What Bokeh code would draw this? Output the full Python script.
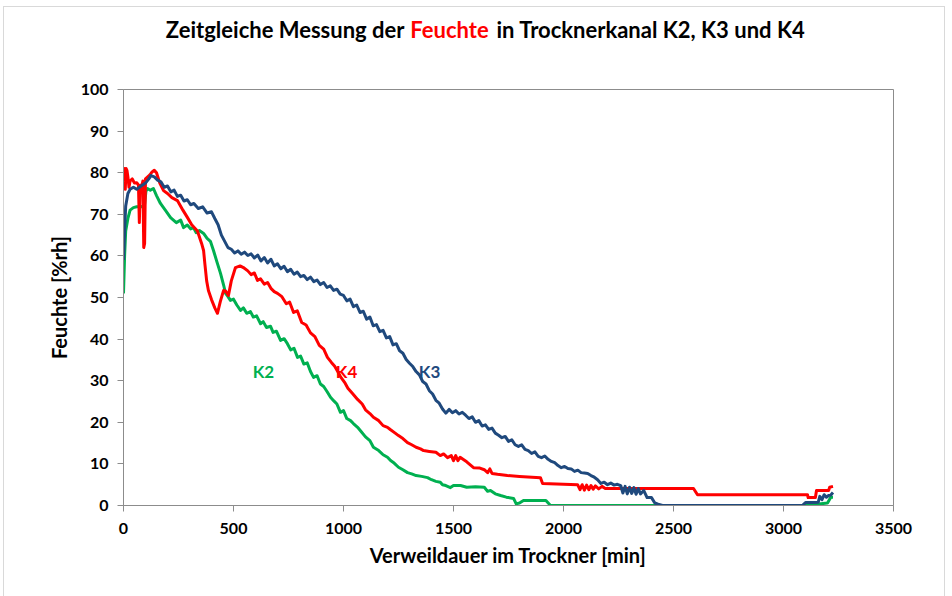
from bokeh.plotting import figure
from bokeh.layouts import column
from bokeh.models import FixedTicker, Range1d
from bokeh.core.properties import value
from bokeh.embed import file_html
from bokeh.resources import INLINE

# ---------------- data ----------------
X_TICKS = [0, 500, 1000, 1500, 2000, 2500, 3000, 3500]
Y_TICKS = [0, 10, 20, 30, 40, 50, 60, 70, 80, 90, 100]

K3_x = [0, 5, 10, 20, 30, 45, 60, 80, 100, 115,
        125, 140, 155, 170, 185, 200, 215, 230, 245, 260,
        275, 290, 305, 320, 340, 360, 380, 400, 415, 430,
        445, 460, 475, 490, 505, 520, 535, 550, 565, 580,
        595, 610, 625, 640, 655, 670, 685, 700, 715, 730,
        745, 760, 775, 790, 805, 820, 835, 850, 865, 880,
        895, 910, 925, 940, 955, 970, 985, 1000, 1015, 1030,
        1045, 1060, 1075, 1090, 1105, 1120, 1135, 1150, 1165, 1180,
        1195, 1210, 1225, 1240, 1255, 1270, 1285, 1300, 1315, 1330,
        1345, 1360, 1375, 1390, 1405, 1420, 1435, 1450, 1465, 1480,
        1495, 1510, 1525, 1540, 1555, 1570, 1585, 1600, 1615, 1630,
        1645, 1660, 1675, 1690, 1705, 1720, 1735, 1750, 1765, 1780,
        1795, 1810, 1825, 1840, 1855, 1870, 1885, 1900, 1915, 1930,
        1945, 1960, 1975, 1990, 2005, 2020, 2035, 2050, 2065, 2080,
        2095, 2110, 2125, 2140, 2155, 2170, 2185, 2200, 2215, 2230,
        2245, 2260, 2270, 2280, 2290, 2300, 2310, 2320, 2330, 2340,
        2350, 2365, 2380, 2400, 2415, 2430, 2450, 2600, 2800, 3000,
        3085, 3100, 3130, 3158, 3165, 3175, 3185, 3195, 3205, 3215,
        3225]
K3_y = [59, 66, 72, 75, 76, 76.5, 76, 76.8, 77.5, 78.5,
        79.3, 79, 78.2, 77.8, 76.5, 76.8, 75.4, 75.8, 74.3, 74.6,
        73.2, 73.5, 72.3, 72.6, 71.4, 71.8, 70.3, 70.6, 69, 67.5,
        65, 63.5, 62, 61.6, 60.7, 61.2, 60.4, 60.9, 60.1, 60.5,
        59.5, 60.2, 58.8, 59.6, 58.3, 59.2, 57.6, 58.1, 56.9, 57.5,
        56.2, 56.8, 55.6, 56.1, 55, 55.3, 54.3, 54.9, 53.8, 54.2,
        53.1, 53.6, 52.4, 52.8, 51.7, 52, 50.8, 50.5, 49.2, 49.6,
        47.8, 48.2, 46.4, 46.7, 44.8, 45.3, 43.2, 43.5, 41.8, 42.1,
        40.3, 40.6, 38.6, 38.9, 37.2, 36.6, 35.1, 34.2, 33.4, 32.2,
        31.4, 29.8, 29.2, 27.6, 26.8, 25.3, 24.6, 23.2, 22.2, 23.1,
        22.3, 22.8, 22, 22.4, 21.7, 20.9, 21.3, 20, 20.4, 19.1,
        19.4, 18.3, 18.6, 17.4, 16.9, 16.3, 16.6, 15.4, 15.8, 14.6,
        14.2, 14.6, 13.5, 13.2, 12.5, 12.9, 11.8, 11.5, 11.9, 11.1,
        10.6, 10.3, 9.6, 9.1, 9.4, 8.9, 8.8, 8.2, 8.5, 7.9,
        7.8, 7.7, 7.2, 6.8, 6.2, 5.3, 5.6, 5.0, 5.4, 4.9,
        5.1, 4.8, 3.0, 4.6, 2.8, 4.4, 2.9, 4.3, 2.7, 4.1,
        2.8, 3.6, 1.9, 1.9, 0.6, 0.3, 0, 0, 0, 0,
        0, 0.7, 0.7, 0.8, 2.2, 1.4, 2.6, 2.0, 2.4, 2.5,
        3.1]

K4_x = [0, 4, 8, 12, 16, 20, 25, 30, 40, 50,
        60, 68, 72, 76, 80, 88, 92, 96, 100, 110,
        120, 130, 140, 150, 165, 182, 200, 220, 245, 270,
        291, 310, 336, 355, 364, 370, 378, 386, 400, 415,
        427, 440, 455, 465, 477, 490, 509, 530, 545, 565,
        580, 595, 609, 623, 640, 655, 670, 685, 700, 720,
        740, 755, 773, 790, 810, 830, 850, 870, 890, 910,
        927, 945, 960, 975, 986, 1005, 1020, 1040, 1064, 1085,
        1100, 1120, 1136, 1160, 1180, 1200, 1214, 1235, 1250, 1270,
        1291, 1310, 1330, 1350, 1364, 1390, 1420, 1440, 1455, 1473,
        1490, 1500, 1510, 1520, 1530, 1560, 1591, 1620, 1640, 1655,
        1665, 1675, 1700, 1745, 1800, 1895, 1905, 2064, 2075, 2085,
        2095, 2105, 2115, 2125, 2135, 2145, 2160, 2175, 2190, 2200,
        2591, 2609, 3109, 3112, 3145, 3150, 3205, 3210, 3225]
K4_y = [78, 81, 76, 81, 80.5, 79, 76.5, 78, 78.5, 77.5,
        77.6, 77, 68, 77, 76, 78, 62, 63, 78.5, 79,
        79.5, 80.2, 80.6, 80, 77.5, 75.7, 75, 74, 73.3, 71,
        69.2, 67.5, 66, 63, 61.3, 58, 54, 51.7, 49.5, 47.5,
        46.2, 49, 51.7, 51.5, 50.5, 54, 57.2, 57.6, 57.2, 56.4,
        55.5, 55.9, 54.1, 54.5, 53.2, 53.6, 52.2, 51.4, 51, 50.2,
        48.5, 48.9, 46.4, 46.8, 44, 43.4, 41.5, 40.6, 38.5, 37.6,
        35.6, 34.4, 33.5, 32.1, 31, 29.6, 28.2, 27, 25.5, 24.4,
        23, 22.1, 21.2, 20.4, 19.2, 18.8, 18.2, 17.4, 16.8, 16.1,
        15.1, 14.6, 14, 13.6, 13.2, 13, 12.8, 12, 12.4, 11.5,
        12, 10.8, 12, 10.8, 11.6, 10.5, 9.1, 9, 8.6, 7.9,
        8.8, 7.7, 7.5, 7.2, 7, 6.7, 5.3, 5, 3.8, 5,
        3.7, 4.9, 3.8, 4.8, 3.9, 4.7, 4, 4.6, 4.1, 4.1,
        4.1, 2.6, 2.6, 1.9, 1.9, 3.6, 3.6, 4.4, 4.6]

K2_x = [0, 5, 10, 20, 30, 45, 60, 80, 95, 102,
        109, 122, 136, 150, 168, 190, 214, 240, 260, 273,
        290, 305, 318, 330, 345, 364, 380, 395, 409, 425,
        441, 455, 464, 475, 486, 500, 515, 532, 545, 560,
        577, 590, 605, 623, 635, 650, 668, 680, 695, 714,
        730, 745, 760, 775, 791, 805, 820, 835, 850, 864,
        880, 895, 910, 925, 941, 955, 970, 986, 1000, 1015,
        1032, 1045, 1064, 1080, 1100, 1120, 1136, 1160, 1180, 1200,
        1214, 1230, 1250, 1270, 1291, 1310, 1330, 1355, 1382, 1400,
        1420, 1440, 1450, 1465, 1486, 1500, 1532, 1560, 1600, 1640,
        1655, 1668, 1690, 1714, 1740, 1773, 1785, 1800, 1818, 1920,
        1941, 3109, 3150, 3200, 3215, 3225]
K2_y = [51, 60, 66, 69, 71, 71.6, 71.8, 71.8, 72, 75.5,
        76.2, 75.8, 76.2, 74.5, 72.6, 71, 69.2, 68, 68.6, 66.8,
        67.4, 66.5, 66.8, 65.6, 66.1, 65.4, 64.2, 63.5, 61.3, 58.5,
        55.8, 53, 51, 50.2, 49.3, 49.6, 48.2, 46.9, 47.5, 46.2,
        46.6, 45.3, 45.6, 43.7, 44.2, 42.8, 43.1, 41.6, 41.9, 39.7,
        40.1, 38.9, 37.4, 37.8, 35.6, 35.9, 34, 34.3, 32.2, 30.8,
        31.2, 29.2, 28.6, 27.4, 26, 25.2, 24.4, 22.4, 22.8, 20.9,
        20.4, 19.7, 18.8, 17.8, 16.5, 15.6, 14, 13.2, 12.2, 11.6,
        10.8, 10.2, 9.2, 8.6, 7.9, 7.6, 7.2, 7, 6.7, 6.2,
        5.8, 5.6, 5, 4.8, 4.3, 4.8, 4.8, 4.4, 4.5, 4.4,
        3.4, 3.6, 2.8, 2.4, 2.0, 1.7, 0.4, 0.6, 1.2, 1.2,
        0, 0, 0.3, 0.6, 2, 2]

SERIES_NAMES = ["K2", "K3", "K4"]
SERIES_COLORS = {"K2": "#00B050", "K3": "#1F497D", "K4": "#FF0000"}
LABEL_X = {"K2": 636, "K4": 1014, "K3": 1391}
LABEL_Y = 32.2

TITLE_PARTS = ["Zeitgleiche Messung der", "Feuchte", "in Trocknerkanal K2, K3 und K4"]
TITLE_COLORS = ["black", "#FF0000", "black"]
TITLE_ALIGN = ["right", "center", "left"]
TITLE_X = [404, 449, 496]   # page x positions (title strip frame is aligned to the chart frame)

for a, b in [(K3_x, K3_y), (K4_x, K4_y), (K2_x, K2_y)]:
    assert len(a) == len(b), (len(a), len(b))

FONT = "Lato"
W = 940

# ---------------- title strip ----------------
t = figure(width=W, height=50, output_backend="svg", toolbar_location=None,
           title=None,
           x_range=Range1d(123, 893), y_range=Range1d(0, 50),
           x_axis_location=None, y_axis_location=None,
           min_border_left=0, min_border_right=0,
           min_border_top=0, min_border_bottom=0)
t.grid.visible = False
t.outline_line_color = None
t.background_fill_color = "white"
t.border_fill_color = "white"
for txt, col, al, tx in zip(TITLE_PARTS, TITLE_COLORS, TITLE_ALIGN, TITLE_X):
    t.text(x=[tx], y=[28], text=[txt],
           text_color=col, text_font=value(FONT), text_font_style="bold",
           text_font_size="22px", text_align=al,
           text_baseline="alphabetic")

# ---------------- main chart ----------------
p = figure(width=W, height=539, output_backend="svg", toolbar_location=None,
           x_range=Range1d(0, 3500), y_range=Range1d(0, 100),
           min_border_left=119, min_border_right=51,
           min_border_top=32, min_border_bottom=91)
p.background_fill_color = "white"
p.border_fill_color = "white"
p.outline_line_color = "#8C8C8C"
p.outline_line_width = 1
p.xgrid.visible = False
p.ygrid.visible = False

for ax in (p.xaxis[0], p.yaxis[0]):
    ax.axis_line_color = "#8C8C8C"
    ax.major_tick_line_color = "#8C8C8C"
    ax.minor_tick_line_color = None
    ax.major_tick_in = 0
    ax.major_tick_out = 6
    ax.major_label_text_font = FONT
    ax.major_label_text_font_style = "bold"
    ax.major_label_text_font_size = "16px"
    ax.major_label_text_color = "black"
    ax.axis_label_text_font = FONT
    ax.axis_label_text_font_style = "bold"
    ax.axis_label_text_font_size = "20px"
    ax.axis_label_text_color = "black"

p.xaxis.ticker = FixedTicker(ticks=X_TICKS)
p.yaxis.ticker = FixedTicker(ticks=Y_TICKS)
p.xaxis.axis_label = "Verweildauer im Trockner [min]"
p.yaxis.axis_label = "Feuchte [%rh]"
p.xaxis.major_label_standoff = 11
p.yaxis.major_label_standoff = 9
p.xaxis.axis_label_standoff = 6
p.yaxis.axis_label_standoff = 7

data = {"K2": (K2_x, K2_y), "K3": (K3_x, K3_y), "K4": (K4_x, K4_y)}
for name in ["K2", "K4", "K3"]:
    xs, ys = data[name]
    p.line(xs, ys, line_color=SERIES_COLORS[name], line_width=3,
           line_join="round")

for name in SERIES_NAMES:
    p.text(x=[LABEL_X[name]], y=[LABEL_Y], text=[name],
           text_color=SERIES_COLORS[name], text_font=value(FONT),
           text_font_style="bold", text_font_size="17px",
           text_align="center", text_baseline="middle")

layout = column(t, p, spacing=0)
layout.styles = {"border-top": "1px solid #D9D9D9",
                 "border-left": "1px solid #D9D9D9",
                 "border-right": "1px solid #D9D9D9",
                 "margin-left": "3px", "margin-top": "6px"}

open("out.html", "w").write(file_html(layout, INLINE))
